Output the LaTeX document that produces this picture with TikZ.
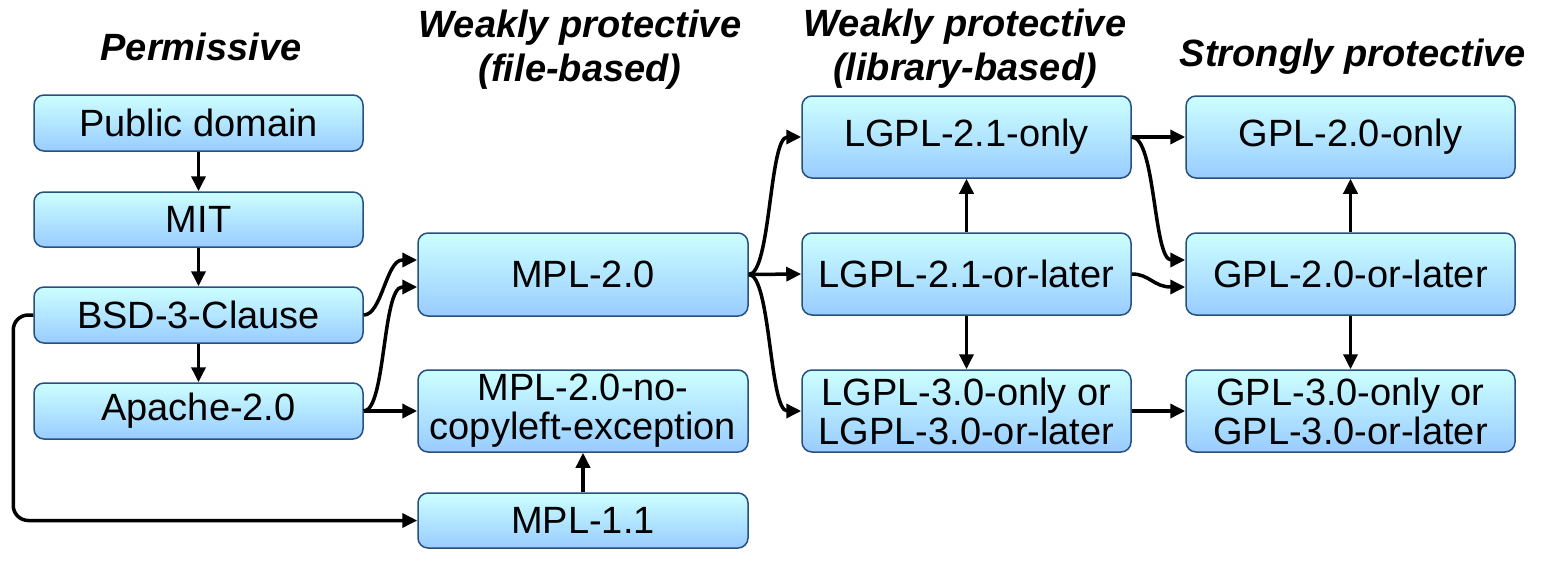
\documentclass[tikz,border=0pt]{standalone}
\usepackage{fontspec}
\setmainfont{Liberation Sans}
\usetikzlibrary{arrows.meta,calc}
\definecolor{boxtop}{RGB}{204,255,255}
\definecolor{boxbot}{RGB}{153,204,255}
\definecolor{boxedge}{RGB}{38,80,128}
\begin{document}
\begin{tikzpicture}[x=1pt,y=-1pt,
  lic/.style={rounded corners=10pt, draw=boxedge, line width=1.5pt,
    top color=boxtop, bottom color=boxbot, minimum width=329pt,
    inner sep=0pt, align=center, font=\fontsize{38}{39}\selectfont},
  hdr/.style={align=center, font=\fontsize{38}{44}\selectfont\bfseries\itshape},
  arr/.style={line width=3.5pt, -{Triangle[length=15pt,width=14pt]}}]
\fill[white] (0,0) rectangle (1548,576);
\useasboundingbox (0,0) rectangle (1548,576);
% headers
\node[hdr] (h1) at (201,47) {Permissive};
\node[hdr] (h2) at (580,50) {Weakly protective\\(file-based)};
\node[hdr] (h3) at (965,49) {Weakly protective\\(library-based)};
\node[hdr] (h4) at (1353,57) {Strongly protective};
% column 1
\node[lic, minimum height=56pt] (pd) at (198.5,123) {Public domain};
\node[lic, minimum height=55pt] (mit) at (198.5,219.5) {MIT};
\node[lic, minimum height=56pt] (bsd) at (198.5,315) {BSD-3-Clause};
\node[lic, minimum height=56pt] (apache) at (198.5,411) {Apache-2.0};
% column 2
\node[lic, minimum width=330pt, minimum height=83pt] (mpl2) at (583,274.5) {MPL-2.0};
\node[lic, minimum width=330pt, minimum height=82pt] (mplno) at (583,411) {MPL-2.0-no-\\copyleft-exception};
\node[lic, minimum width=330pt, minimum height=55pt] (mpl11) at (583,520.5) {MPL-1.1};
% column 3
\node[lic, minimum height=82pt] (lgpl21) at (966.5,137) {LGPL-2.1-only};
\node[lic, minimum height=82pt] (lgpl21l) at (966.5,274) {LGPL-2.1-or-later};
\node[lic, minimum height=82pt] (lgpl3) at (966.5,411) {LGPL-3.0-only or\\LGPL-3.0-or-later};
% column 4
\node[lic, minimum height=82pt] (gpl2) at (1350.5,137) {GPL-2.0-only};
\node[lic, minimum height=82pt] (gpl2l) at (1350.5,274) {GPL-2.0-or-later};
\node[lic, minimum height=82pt] (gpl3) at (1350.5,411) {GPL-3.0-only or\\GPL-3.0-or-later};
% connectors column 1
\draw[arr] (pd.south) -- (mit.north);
\draw[arr] (mit.south) -- (bsd.north);
\draw[arr] (bsd.south) -- (apache.north);
\draw[arr] (bsd.east) .. controls +(18,0) and +(-16,0) .. ($(mpl2.west)+(-15,-14.5)$) -- ($(mpl2.west)+(0,-14.5)$);
\draw[arr] (apache.east) .. controls +(22,0) and +(-20,0) .. ($(mpl2.west)+(-15,12.5)$) -- ($(mpl2.west)+(0,12.5)$);
\draw[arr] (apache.east) -- (mplno.west);
\draw[arr, rounded corners=15pt] (bsd.west) -- ++(-20,0) |- (mpl11.west);
\draw[arr] (mpl11.north) -- (mplno.south);
% connectors column 2 -> 3
\draw[arr] (mpl2.east) .. controls +(22,0) and +(-18,0) .. ($(lgpl21.west)+(-14,0)$) -- (lgpl21.west);
\draw[arr] (mpl2.east) -- (lgpl21l.west);
\draw[arr] (mpl2.east) .. controls +(22,0) and +(-18,0) .. ($(lgpl3.west)+(-14,0)$) -- (lgpl3.west);
\draw[arr] (lgpl21l.north) -- (lgpl21.south);
\draw[arr] (lgpl21l.south) -- (lgpl3.north);
% connectors column 3 -> 4
\draw[arr] (lgpl21.east) -- (gpl2.west);
\draw[arr] (lgpl21.east) .. controls +(24,0) and +(-18,0) .. ($(gpl2l.west)+(-14,-14)$) -- ($(gpl2l.west)+(0,-14)$);
\draw[arr] (lgpl21l.east) .. controls +(18,0) and +(-18,0) .. ($(gpl2l.west)+(-14,13)$) -- ($(gpl2l.west)+(0,13)$);
\draw[arr] (lgpl3.east) -- (gpl3.west);
\draw[arr] (gpl2l.north) -- (gpl2.south);
\draw[arr] (gpl2l.south) -- (gpl3.north);
\end{tikzpicture}
\end{document}
